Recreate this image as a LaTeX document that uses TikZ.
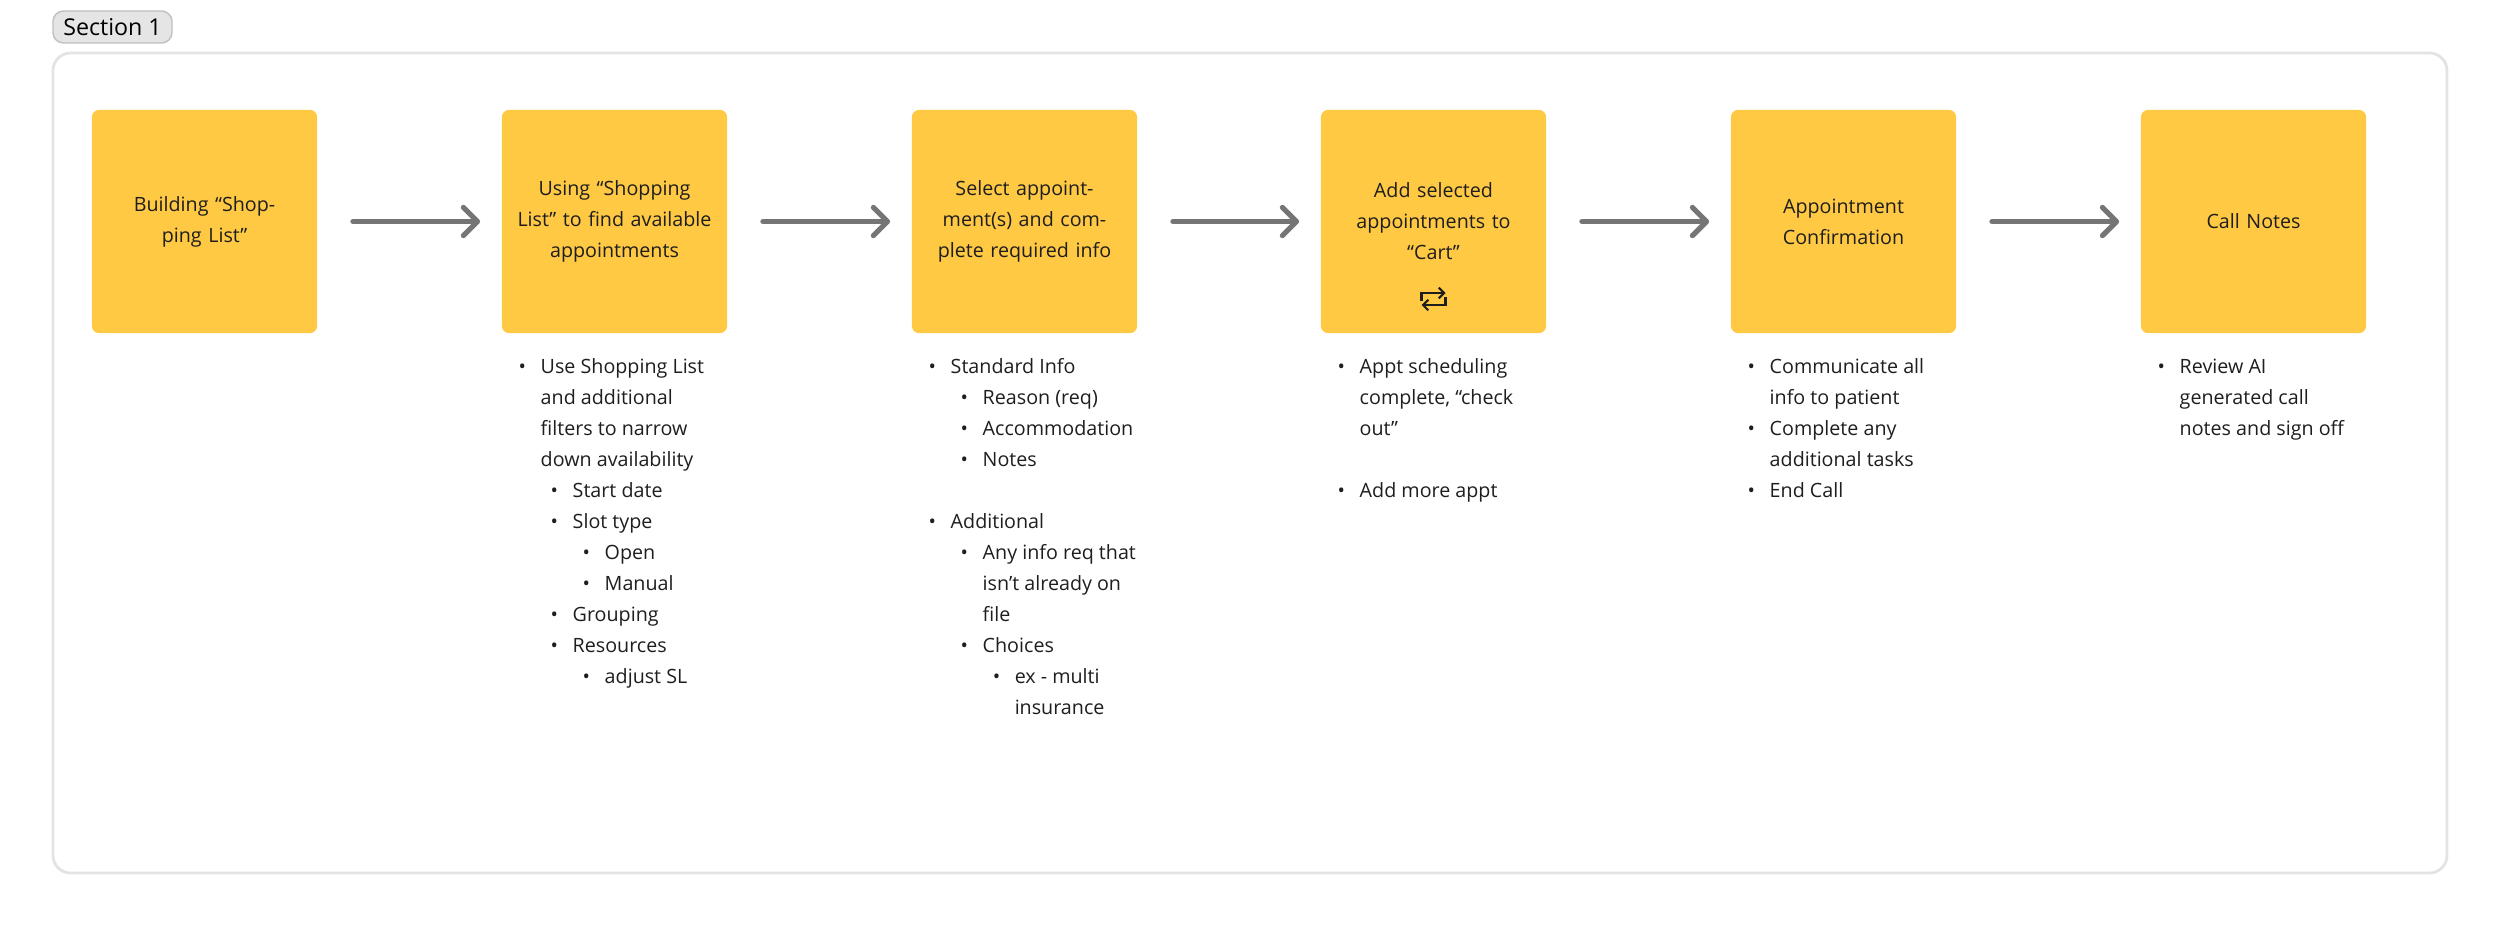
\documentclass[tikz,border=0pt]{standalone}
\usepackage{fontspec}
\setmainfont{Open Sans}
\usetikzlibrary{positioning}
\usetikzlibrary{arrows.meta}

\definecolor{stickyyellow}{HTML}{FFC943}
\definecolor{arrowgray}{HTML}{757575}
\definecolor{framegray}{HTML}{E3E3E3}
\definecolor{inkdark}{HTML}{1E1E1E}

\newcommand{\blt}[2]{\hspace*{#1}\makebox[0.22cm][l]{\textbullet}#2}
\newcommand{\cnt}[2]{\hspace*{#1}\hspace*{0.22cm}#2}

\tikzset{
  stepbox/.style={rectangle, rounded corners=2pt, fill=stickyyellow, minimum width=2.25cm,
    minimum height=2.23cm, text width=1.95cm, align=center, text=inkdark,
    font=\fontsize{5.6}{8.8}\selectfont, inner sep=0pt},
  flow/.style={draw=arrowgray, line width=1.5pt, line cap=round,
    -{Straight Barb[length=4pt, width=8pt, line width=1.5pt, round]}},
  notes/.style={anchor=north west, align=left, text=inkdark,
    font=\fontsize{5.6}{8.8}\selectfont, inner sep=0pt}
}

\begin{document}
\begin{tikzpicture}[x=0.01cm, y=-0.01cm]
  \useasboundingbox (0,0) rectangle (2500,927);
  % section frame
  \draw[framegray, line width=0.8pt, rounded corners=5pt] (53,53) rectangle (2447,873);
  \node[draw=black!25, fill=black!10, rounded corners=3pt, minimum width=1.19cm, minimum height=0.32cm,
    inner sep=0pt, font=\fontsize{6.6}{8}\selectfont] (sec) at (112.5,27) {Section 1};

  \node[stepbox] (s1) at (204.5,221.5) {Building ``Shopping List''};
  \node[stepbox] (s2) at (614.5,221.5) {Using ``Shopping List'' to find available appointments};
  \node[stepbox] (s3) at (1024.5,221.5) {Select appointment(s) and complete required info};
  \node[stepbox] (s4) at (1433.5,221.5) {\raisebox{0.6em}{\parbox{1.95cm}{\centering Add selected appointments to ``Cart''}}};
  \node[stepbox] (s5) at (1843.5,221.5) {Appointment Confirmation};
  \node[stepbox] (s6) at (2253.5,221.5) {Call Notes};

  % swap icon
  \coordinate (sw) at (1433.5,298);
  \draw[inkdark, line width=0.6pt, -{Straight Barb[length=1.5pt, width=3pt]}]
    ([shift={(-12,3)}]sw) -- ++(0,-8) -- ++(24,0);
  \draw[inkdark, line width=0.6pt, -{Straight Barb[length=1.5pt, width=3pt]}]
    ([shift={(12,-1)}]sw) -- ++(0,8) -- ++(-24,0);

  \foreach \a/\b in {s1/s2, s2/s3, s3/s4, s4/s5, s5/s6}
    \draw[flow] ([xshift=10pt]\a.east) -- ([xshift=-6pt]\b.west);

  \node[notes] (n2) at (518,358) {%
    \blt{0pt}{Use Shopping List}\\ \cnt{0pt}{and additional}\\ \cnt{0pt}{filters to narrow}\\
    \cnt{0pt}{down availability}\\ \blt{0.32cm}{Start date}\\ \blt{0.32cm}{Slot type}\\
    \blt{0.64cm}{Open}\\ \blt{0.64cm}{Manual}\\ \blt{0.32cm}{Grouping}\\
    \blt{0.32cm}{Resources}\\ \blt{0.64cm}{adjust SL}};
  \node[notes] (n3) at (928,358) {%
    \blt{0pt}{Standard Info}\\ \blt{0.32cm}{Reason (req)}\\ \blt{0.32cm}{Accommodation}\\
    \blt{0.32cm}{Notes}\\ \mbox{}\\ \blt{0pt}{Additional}\\ \blt{0.32cm}{Any info req that}\\
    \cnt{0.32cm}{isn't already on}\\ \cnt{0.32cm}{file}\\ \blt{0.32cm}{Choices}\\
    \blt{0.64cm}{ex - multi}\\ \cnt{0.64cm}{insurance}};
  \node[notes] (n4) at (1337,358) {%
    \blt{0pt}{Appt scheduling}\\ \cnt{0pt}{complete, ``check}\\ \cnt{0pt}{out''}\\ \mbox{}\\
    \blt{0pt}{Add more appt}};
  \node[notes] (n5) at (1747,358) {%
    \blt{0pt}{Communicate all}\\ \cnt{0pt}{info to patient}\\ \blt{0pt}{Complete any}\\
    \cnt{0pt}{additional tasks}\\ \blt{0pt}{End Call}};
  \node[notes] (n6) at (2157,358) {%
    \blt{0pt}{Review AI}\\ \cnt{0pt}{generated call}\\ \cnt{0pt}{notes and sign off}};
\end{tikzpicture}
\end{document}
